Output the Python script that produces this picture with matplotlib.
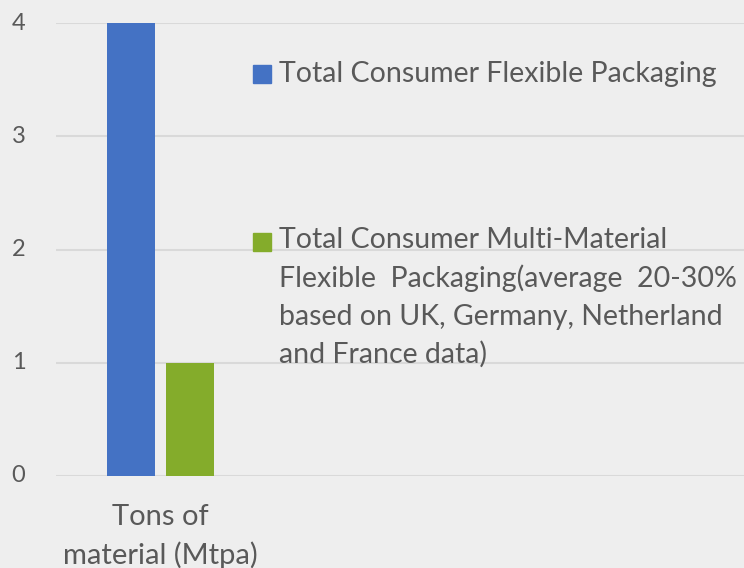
import matplotlib
matplotlib.use("Agg")
import matplotlib.pyplot as plt
from matplotlib.patches import Rectangle

categories = ["Tons of\nmaterial (Mtpa)"]
series_names = ["Total Consumer Flexible Packaging",
                "Total Consumer Multi-Material\nFlexible  Packaging(average  20-30%\nbased on UK, Germany, Netherland\nand France data)"]
flexible = [4]
multi_material = [1]
yticks = [0, 1, 2, 3, 4]
colors = ["#4472C4", "#84AC2B"]

plt.rcParams['font.family'] = ['Lato', 'DejaVu Sans']
W, H = 744, 568
fig = plt.figure(figsize=(W / 100, H / 100), dpi=100)
bg = "#eeeeee"
fig.patch.set_facecolor(bg)

left, right, top, bottom = 56, 744, 23, 476
ax = fig.add_axes([left / W, 1 - bottom / H, (right - left) / W, (bottom - top) / H])
ax.set_facecolor("none")

xs = list(range(len(categories)))
bw = 0.48
off = 0.295
ax.bar([x - off for x in xs], flexible, width=bw, color=colors[0], zorder=3)
ax.bar([x + off for x in xs], multi_material, width=bw, color=colors[1], zorder=3)

ax.set_xlim(-1.045, 5.835)
ax.set_ylim(0, 4)
ax.set_yticks(yticks)
ax.set_yticklabels([str(t) for t in yticks])
ax.grid(axis='y', color="#d9d9d9", linewidth=1.5, zorder=0)
for s in ax.spines.values():
    s.set_visible(False)
ax.tick_params(axis='y', length=0, pad=22, labelsize=17, labelcolor="#595959")
ax.set_xticks(xs)
ax.set_xticklabels(categories, fontsize=21, color="#595959", linespacing=1.5)
ax.tick_params(axis='x', length=0, pad=20)
for lbl in ax.get_yticklabels():
    lbl.set_verticalalignment('center')

# legend (manual layout); baseline given for the last line of each entry
txt_col = "#595959"
sq = 18
entries = [(series_names[0], 65, 82), (series_names[1], 233, 363)]
for (name, ytop, base), c in zip(entries, colors):
    fig.patches.append(Rectangle((253 / W, 1 - (ytop + sq) / H), sq / W, sq / H,
                                 transform=fig.transFigure, color=c))
    fig.text(279 / W, 1 - base / H, name, ha='left', va='baseline', fontsize=20.5,
             color=txt_col, linespacing=1.53)

fig.savefig("out.png", dpi=100, facecolor=bg)
